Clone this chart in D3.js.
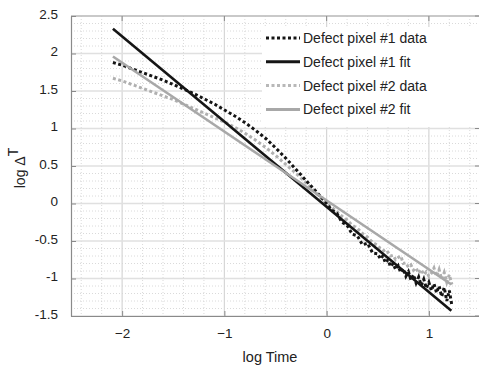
<!DOCTYPE html>
<html>
<head>
<meta charset="utf-8">
<script src="https://cdn.jsdelivr.net/npm/d3@7"></script>
<style>
  body { margin: 0; background: #fff; }
  svg text { font-family: "Liberation Sans", Arial, sans-serif; fill: #222; }
</style>
</head>
<body>
<div id="chart"></div>
<script>
// log time samples (shared by both data series)
var logTime = [-2.09, -1.99, -1.89, -1.79, -1.69, -1.59, -1.49, -1.39, -1.29, -1.19, -1.09,
      -0.99, -0.89, -0.79, -0.69, -0.59, -0.49, -0.39, -0.29, -0.19, -0.09, 0,
      0.05, 0.10, 0.15, 0.20, 0.25, 0.30, 0.35, 0.40, 0.45, 0.50,
      0.525, 0.55, 0.575, 0.60, 0.625, 0.65, 0.675, 0.70, 0.725, 0.75, 0.775, 0.80,
      0.825, 0.85, 0.875, 0.90, 0.925, 0.95, 0.975, 1.00, 1.025, 1.05, 1.075, 1.10,
      1.125, 1.15, 1.175, 1.20, 1.225];

var pixel1Data = [1.88, 1.84, 1.79, 1.74, 1.69, 1.64, 1.58, 1.52, 1.46, 1.39, 1.32,
      1.24, 1.16, 1.07, 0.97, 0.86, 0.73, 0.59, 0.44, 0.29, 0.14, 0.0,
      -0.09, -0.13, -0.25, -0.29, -0.41, -0.43, -0.55, -0.53, -0.66, -0.67,
      -0.74, -0.70, -0.79, -0.75, -0.84, -0.80, -0.88, -0.83, -0.92, -0.87, -0.97, -0.91,
      -1.02, -0.95, -1.06, -0.98, -1.09, -1.01, -1.13, -1.05, -1.16, -1.07, -1.19, -1.10,
      -1.24, -1.12, -1.30, -1.16, -1.36];

var pixel2Data = [1.67, 1.63, 1.58, 1.53, 1.48, 1.43, 1.38, 1.32, 1.26, 1.20, 1.14,
      1.08, 1.01, 0.93, 0.84, 0.74, 0.63, 0.51, 0.39, 0.26, 0.12, 0.0,
      -0.05, -0.11, -0.17, -0.22, -0.29, -0.33, -0.40, -0.45, -0.52, -0.56,
      -0.60, -0.61, -0.66, -0.65, -0.70, -0.69, -0.75, -0.72, -0.70, -0.80, -0.79, -0.85,
      -0.82, -0.89, -0.86, -0.93, -0.88, -0.95, -0.91, -0.97, -0.93, -0.86, -0.97, -0.88,
      -1.01, -0.92, -1.05, -0.95, -1.08];

// fitted lines (end points)
var fitTime = [-2.09, 1.22];
var pixel1Fit = [2.33, -1.43];
var pixel2Fit = [1.96, -1.08];

var xTicks = [-2, -1, 0, 1];
var yTicks = [-1.5, -1, -0.5, 0, 0.5, 1, 1.5, 2, 2.5];

var legendNames = ["Defect pixel #1 data", "Defect pixel #1 fit", "Defect pixel #2 data", "Defect pixel #2 fit"];

var W = 479, H = 370;
var pL = 71, pR = 480, pT = 16, pB = 316;

var svg = d3.select("#chart").append("svg")
      .attr("width", W).attr("height", H);

var x = d3.scaleLinear().domain([-2.5, 1.5]).range([pL, pR]);
var y = d3.scaleLinear().domain([-1.5, 2.5]).range([pB, pT]);

// minor grid (dotted)
var xMinor = d3.range(-2.4, 1.5, 0.2).filter(function (v) { return Math.abs(v - Math.round(v)) > 0.01; });
var yMinor = d3.range(-1.4, 2.5, 0.1).filter(function (v) { return Math.abs(v * 2 - Math.round(v * 2)) > 0.01; });

var grid = svg.append("g");
grid.selectAll(".vmin").data(xMinor).enter().append("line")
      .attr("x1", function (d) { return x(d); }).attr("x2", function (d) { return x(d); })
      .attr("y1", pT).attr("y2", pB)
      .attr("stroke", "#d0d0d0").attr("stroke-width", 0.8).attr("stroke-dasharray", "1,2");
grid.selectAll(".hmin").data(yMinor).enter().append("line")
      .attr("x1", pL).attr("x2", pR)
      .attr("y1", function (d) { return y(d); }).attr("y2", function (d) { return y(d); })
      .attr("stroke", "#d0d0d0").attr("stroke-width", 0.8).attr("stroke-dasharray", "1,2");

// major grid
grid.selectAll(".vmaj").data(xTicks).enter().append("line")
      .attr("x1", function (d) { return x(d); }).attr("x2", function (d) { return x(d); })
      .attr("y1", pT).attr("y2", pB)
      .attr("stroke", "#d6d6d6").attr("stroke-width", 1.2);
grid.selectAll(".hmaj").data(yTicks).enter().append("line")
      .attr("x1", pL).attr("x2", pR)
      .attr("y1", function (d) { return y(d); }).attr("y2", function (d) { return y(d); })
      .attr("stroke", "#e0e0e0").attr("stroke-width", 1.6);

// box + ticks
svg.append("line").attr("x1", pL).attr("x2", pR).attr("y1", pT).attr("y2", pT)
      .attr("stroke", "#aaa").attr("stroke-width", 1);
svg.append("line").attr("x1", pR).attr("x2", pR).attr("y1", pT).attr("y2", pB)
      .attr("stroke", "#aaa").attr("stroke-width", 1);

var xAxis = svg.append("g").attr("transform", "translate(0," + pB + ")")
      .call(d3.axisBottom(x).tickValues(xTicks).tickSizeInner(-5).tickSizeOuter(0).tickPadding(12)
            .tickFormat(d3.format("")));
var yAxis = svg.append("g").attr("transform", "translate(" + pL + ",0)")
      .call(d3.axisLeft(y).tickValues(yTicks).tickSizeInner(-5).tickSizeOuter(0).tickPadding(13)
            .tickFormat(function (d) { return String(d); }));

[xAxis, yAxis].forEach(function (a) {
      a.select(".domain").attr("stroke", "#8a8a8a").attr("stroke-width", 1.2);
      a.selectAll(".tick line").attr("stroke", "#8a8a8a");
      a.selectAll(".tick text").attr("font-size", "13.5px").attr("fill", "#222")
            .style("font-family", "'Liberation Sans', Arial, sans-serif");
});
yAxis.selectAll(".tick text").attr("dy", "0.18em");

// top / right ticks
svg.selectAll(".ttop").data(xTicks).enter().append("line")
      .attr("x1", function (d) { return x(d); }).attr("x2", function (d) { return x(d); })
      .attr("y1", pT).attr("y2", pT + 5).attr("stroke", "#8a8a8a");
svg.selectAll(".tright").data(yTicks).enter().append("line")
      .attr("x1", pR - 5).attr("x2", pR)
      .attr("y1", function (d) { return y(d); }).attr("y2", function (d) { return y(d); })
      .attr("stroke", "#8a8a8a");

// series
var plot = svg.append("g");
var line = d3.line()
      .x(function (d) { return x(d[0]); })
      .y(function (d) { return y(d[1]); });

plot.append("path").datum(d3.zip(logTime, pixel2Data))
      .attr("d", line).attr("fill", "none")
      .attr("stroke", "#b0b0b0").attr("stroke-width", 3).attr("stroke-dasharray", "3,2.5");
plot.append("path").datum(d3.zip(logTime, pixel1Data))
      .attr("d", line).attr("fill", "none")
      .attr("stroke", "#151515").attr("stroke-width", 3).attr("stroke-dasharray", "3,2.5");
plot.append("path").datum(d3.zip(fitTime, pixel1Fit))
      .attr("d", line).attr("fill", "none")
      .attr("stroke", "#151515").attr("stroke-width", 2.6);
plot.append("path").datum(d3.zip(fitTime, pixel2Fit))
      .attr("d", line).attr("fill", "none")
      .attr("stroke", "#a8a8a8").attr("stroke-width", 2.6);

// legend
var legendStyles = [
      { color: "#151515", dash: "3,2.5" },
      { color: "#151515", dash: null },
      { color: "#b8b8b8", dash: "3,2.5" },
      { color: "#a8a8a8", dash: null }
];
var legend = svg.append("g").attr("transform", "translate(262,27)");
legend.append("rect").attr("width", 220).attr("height", 100).attr("fill", "#fff");
legendNames.forEach(function (name, i) {
      var ly = 11 + i * 23.8;
      legend.append("line")
            .attr("x1", 4).attr("x2", 38).attr("y1", ly).attr("y2", ly)
            .attr("stroke", legendStyles[i].color).attr("stroke-width", 3)
            .attr("stroke-dasharray", legendStyles[i].dash);
      legend.append("text").attr("x", 41).attr("y", ly + 5)
            .attr("font-size", "14px").text(name);
});

// axis labels
svg.append("text").attr("x", 270).attr("y", 362)
      .attr("text-anchor", "middle").attr("font-size", "14.5px").text("log Time");

var yl = svg.append("text").attr("transform", "translate(25,168) rotate(-90)")
      .attr("text-anchor", "middle").attr("font-size", "14px");
yl.append("tspan").text("log  \u0394");
yl.append("tspan").attr("dy", -7).text("T");
</script>
</body>
</html>
